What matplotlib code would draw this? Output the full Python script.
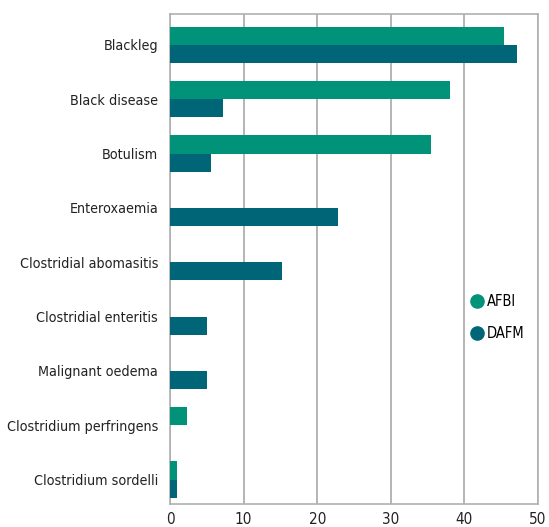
import matplotlib.pyplot as plt
import numpy as np
from matplotlib.lines import Line2D

plt.rcParams['font.family'] = ['DejaVu Sans']
plt.rcParams['font.stretch'] = 'condensed'

# data
diseases = ["Blackleg", "Black disease", "Botulism", "Enteroxaemia",
            "Clostridial abomasitis", "Clostridial enteritis", "Malignant oedema",
            "Clostridium perfringens", "Clostridium sordelli"]
afbi = [45.4, 38.1, 35.4, 0, 0, 0, 0, 2.3, 0.95]
dafm = [47.1, 7.2, 5.6, 22.8, 15.2, 5.0, 5.0, 0, 0.95]

c_afbi = "#009379"
c_dafm = "#006677"

fig = plt.figure(figsize=(5.49, 5.27), dpi=100)
ax = fig.add_axes([170/549, 1 - 504/527, 368/549, 490/527])

y = np.arange(len(diseases))
h = 0.335
ax.barh(y - h/2, afbi, height=h, color=c_afbi, zorder=3)
ax.barh(y + h/2, dafm, height=h, color=c_dafm, zorder=3)

ax.set_xlim(0, 50)
ax.set_ylim(8.45, -0.57)
ax.set_xticks([0, 10, 20, 30, 40, 50])
ax.set_yticks(y)
ax.set_yticklabels(diseases)
ax.tick_params(length=0, labelsize=10.3, colors="#222222")
ax.tick_params(axis="x", labelsize=11, pad=6)
ax.tick_params(axis="y", pad=8.5)
ax.grid(axis="x", color="#a8a8a8", lw=1.2, zorder=0)
for s in ax.spines.values():
    s.set_color("#b0b0b0")
    s.set_linewidth(1.2)

handles = [Line2D([], [], marker="o", ls="", ms=9.5, color=c_afbi),
           Line2D([], [], marker="o", ls="", ms=9.5, color=c_dafm)]
ax.legend(handles, ["AFBI", "DAFM"], loc="center right", bbox_to_anchor=(1.0, 0.38),
          frameon=False, fontsize=10.5, handletextpad=0.1, labelspacing=1.15,
          handlelength=1.2)

fig.savefig("out.png", dpi=100)
